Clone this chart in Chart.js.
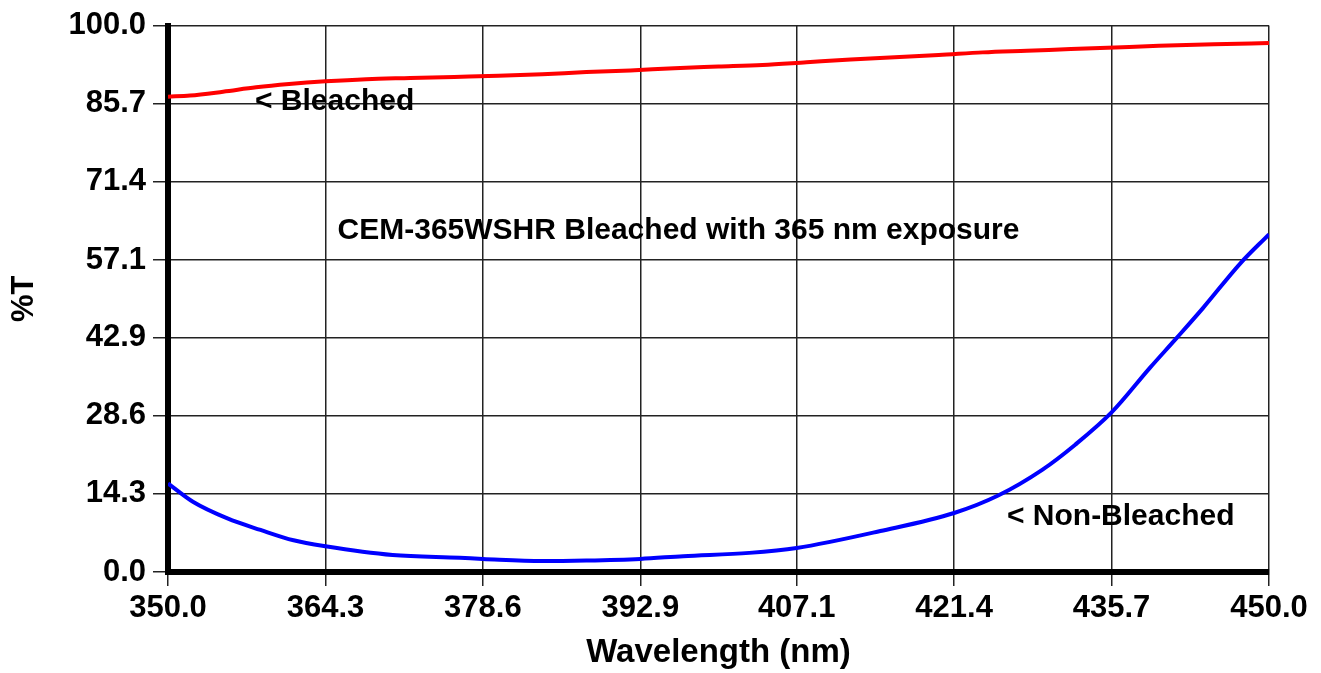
<!DOCTYPE html>
<html>
<head>
<meta charset="utf-8">
<script src="https://cdn.jsdelivr.net/npm/chart.js@4.4.0/dist/chart.umd.min.js"></script>
<style>
  html, body { margin: 0; padding: 0; background: #fff; }
  #wrap { width: 1321px; height: 673px; position: relative; }
</style>
</head>
<body>
<div id="wrap"><canvas id="chartT"></canvas></div>
<script>
// wavelength (nm) / %T
const bleachedNm = [350, 352, 355, 358, 361, 364.3, 368, 372, 376, 380, 384, 388, 392, 396, 400, 404, 408, 412, 416, 420, 424, 428, 432, 436, 440, 445, 450];
const bleachedT  = [87.0, 87.2, 87.9, 88.7, 89.3, 89.8, 90.2, 90.4, 90.6, 90.8, 91.1, 91.5, 91.8, 92.2, 92.5, 92.8, 93.3, 93.8, 94.2, 94.6, 95.1, 95.4, 95.7, 96.0, 96.3, 96.6, 96.8];

const nonBleachedNm = [350, 352.3, 355.4, 358.4, 361.4, 364.3, 370.4, 376.5, 378.6, 384, 388, 392.9, 396.8, 402.8, 407.1, 414.7, 421.4, 425.4, 429.4, 432.4, 435.7, 439.2, 441.6, 444, 447.4, 450];
const nonBleachedT  = [16.2, 12.8, 9.8, 7.7, 5.8, 4.7, 3.1, 2.6, 2.4, 2.0, 2.1, 2.4, 2.9, 3.5, 4.4, 7.5, 10.8, 14.0, 18.7, 23.3, 29.2, 37.4, 42.8, 48.3, 56.5, 61.8];

const xTicks = [350.0, 364.3, 378.6, 392.9, 407.1, 421.4, 435.7, 450.0];
const yTicks = [0.0, 14.3, 28.6, 42.9, 57.1, 71.4, 85.7, 100.0];

const chartTitle = 'CEM-365WSHR Bleached with 365 nm exposure';
const seriesNames = ['< Bleached', '< Non-Bleached'];

const FONT = 'Arial, "Liberation Sans", sans-serif';

function toPoints(xs, ys) {
  return xs.map((x, i) => ({ x: x, y: ys[i] }));
}

// text written inside the plot, placed in data coordinates
const notes = [
  { text: seriesNames[0], x: 357.9, y: 86.0 },
  { text: chartTitle, x: 365.4, y: 62.5 },
  { text: seriesNames[1], x: 426.2, y: 10.2 }
];

const notesPlugin = {
  id: 'notes',
  afterDatasetsDraw(chart) {
    const c = chart.ctx;
    const xs = chart.scales.x, ys = chart.scales.y;
    c.save();
    c.fillStyle = '#000';
    c.font = 'bold 30px ' + FONT;
    c.textAlign = 'left';
    c.textBaseline = 'middle';
    notes.forEach(n => {
      c.fillText(n.text, xs.getPixelForValue(n.x), ys.getPixelForValue(n.y));
    });
    c.restore();
  }
};

const whiteBg = {
  id: 'whiteBg',
  beforeDraw(chart) {
    const c = chart.ctx;
    c.save();
    c.fillStyle = '#fff';
    c.fillRect(0, 0, chart.width, chart.height);
    c.restore();
  }
};

const ctx = document.getElementById('chartT').getContext('2d');

const myChart = new Chart(ctx, {
  type: 'line',
  data: {
    datasets: [
      {
        label: 'Bleached',
        data: toPoints(bleachedNm, bleachedT),
        borderColor: '#ff0000',
        borderWidth: 4,
        pointRadius: 0,
        cubicInterpolationMode: 'monotone'
      },
      {
        label: 'Non-Bleached',
        data: toPoints(nonBleachedNm, nonBleachedT),
        borderColor: '#0000ff',
        borderWidth: 4,
        pointRadius: 0,
        cubicInterpolationMode: 'monotone'
      }
    ]
  },
  options: {
    responsive: true,
    maintainAspectRatio: false,
    animation: false,
    layout: { padding: { left: 0, top: 24, right: 52, bottom: 0 } },
    plugins: {
      legend: { display: false },
      tooltip: { enabled: false }
    },
    scales: {
      x: {
        type: 'linear',
        min: 350,
        max: 450,
        afterBuildTicks: (scale) => { scale.ticks = xTicks.map(v => ({ value: v })); },
        afterFit: (scale) => { scale.height = 101; },
        ticks: {
          color: '#000',
          font: { family: FONT, size: 31, weight: 'bold' },
          padding: 4,
          maxRotation: 0,
          callback: (v) => Number(v).toFixed(1)
        },
        grid: { color: '#222', lineWidth: 1.5, tickLength: 14, drawTicks: true },
        border: { display: true, color: '#000', width: 6 },
        title: {
          display: true,
          text: 'Wavelength (nm)',
          color: '#000',
          font: { family: FONT, size: 33, weight: 'bold' },
          padding: { top: 0, bottom: 0 }
        }
      },
      y: {
        type: 'linear',
        min: 0,
        max: 100,
        afterBuildTicks: (scale) => { scale.ticks = yTicks.map(v => ({ value: v })); },
        afterFit: (scale) => { scale.width = 168; },
        ticks: {
          color: '#000',
          font: { family: FONT, size: 31, weight: 'bold' },
          padding: 7,
          callback: (v) => Number(v).toFixed(1)
        },
        grid: { color: '#222', lineWidth: 1.5, tickLength: 15, drawTicks: true },
        border: { display: true, color: '#000', width: 6 },
        title: {
          display: true,
          text: '%T',
          color: '#000',
          font: { family: FONT, size: 31, weight: 'bold' },
          padding: { top: 6, bottom: 0 }
        }
      }
    }
  },
  plugins: [whiteBg, notesPlugin]
});
</script>
</body>
</html>
